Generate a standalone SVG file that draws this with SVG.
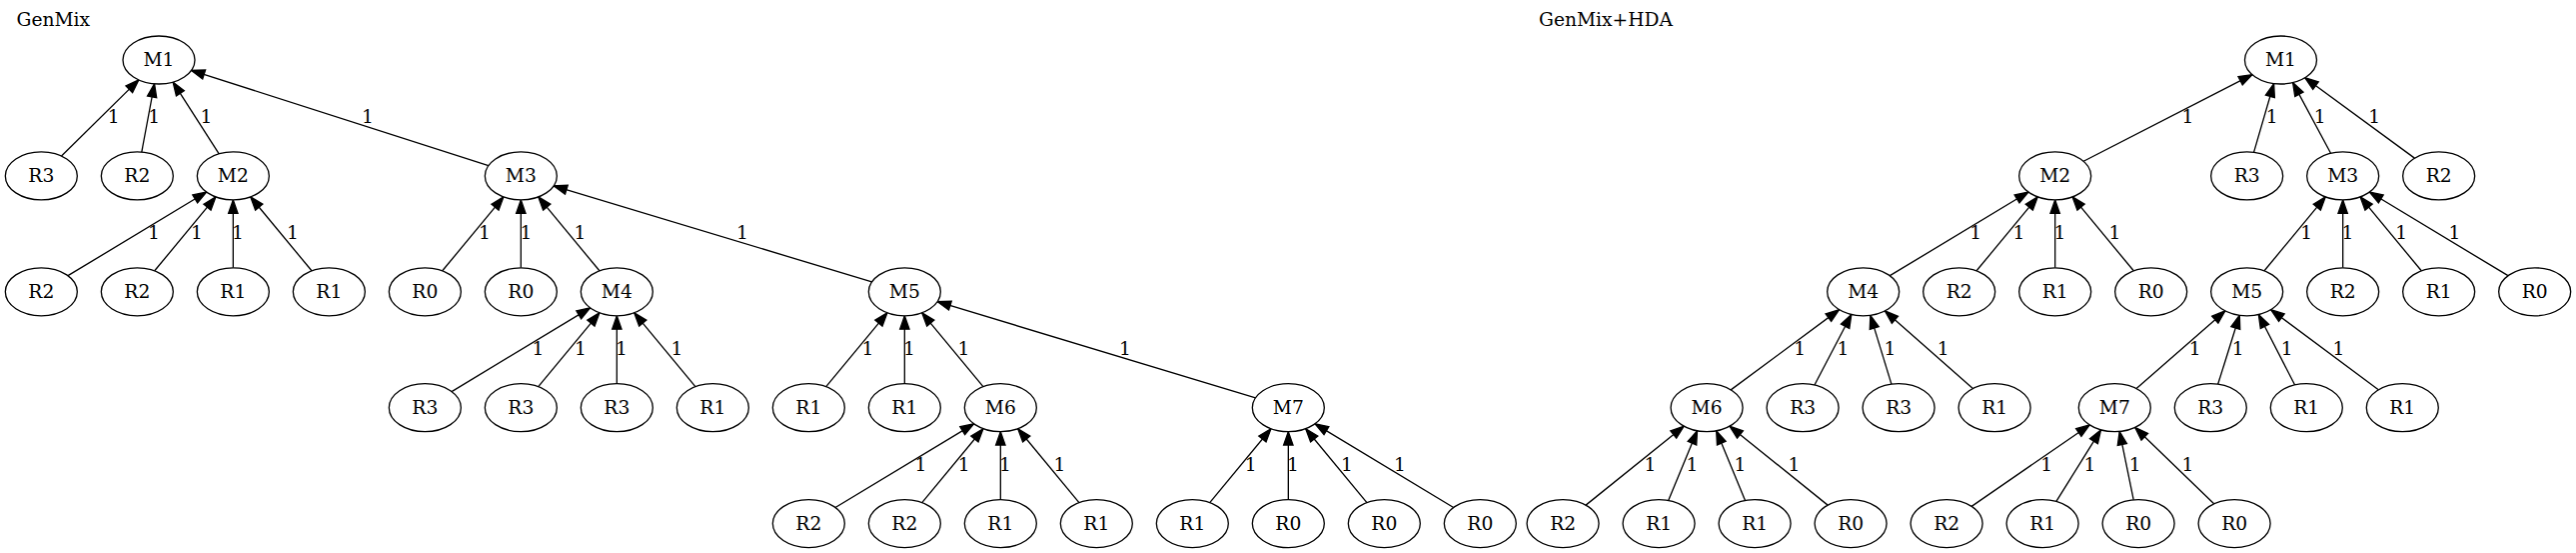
<svg xmlns="http://www.w3.org/2000/svg" width="2578" height="553" viewBox="0 0 2578 553">
<style>
text{font-family:"DejaVu Serif","Liberation Serif",serif;font-size:18.67px;fill:#000}
.n ellipse{fill:#fff;stroke:#000;stroke-width:1.33}
.n text,.e text{text-anchor:middle}
.e path{fill:none;stroke:#000;stroke-width:1.33}
</style>
<defs>
<marker id="ah" markerUnits="userSpaceOnUse" viewBox="-16 -7 18 14" markerWidth="18" markerHeight="14" refX="0" refY="0" orient="auto">
<path d="M-13.33,-4.67 L0,0 L-13.33,4.67 Z" fill="#000" stroke="#000" stroke-width="1.33"/>
</marker>
</defs>
<rect width="2578" height="553" fill="#fff"/>
<text id="title-a" x="16.5" y="26">GenMix</text>
<text id="title-b" x="1540" y="26">GenMix+HDA</text>
<g id="edges" class="e">
<path d="M61.51,156.02 L138.82,79.88" marker-end="url(#ah)"/><text x="113.8" y="123.4">1</text>
<path d="M141.78,152.08 L154.55,83.82" marker-end="url(#ah)"/><text x="154.3" y="123.4">1</text>
<path d="M219.18,153.83 L173.15,82.07" marker-end="url(#ah)"/><text x="206.5" y="123.4">1</text>
<path d="M488.87,165.52 L191.46,70.38" marker-end="url(#ah)"/><text x="368" y="123.4">1</text>
<path d="M68.02,275.69 L206.64,192.01" marker-end="url(#ah)"/><text x="154" y="239.3">1</text>
<path d="M154.73,270.79 L215.93,196.91" marker-end="url(#ah)"/><text x="197" y="239.3">1</text>
<path d="M233.33,267.8 L233.33,199.9" marker-end="url(#ah)"/><text x="238" y="239.3">1</text>
<path d="M311.93,270.79 L250.73,196.91" marker-end="url(#ah)"/><text x="293" y="239.3">1</text>
<path d="M442.73,270.79 L503.93,196.91" marker-end="url(#ah)"/><text x="485" y="239.3">1</text>
<path d="M521.33,267.8 L521.33,199.9" marker-end="url(#ah)"/><text x="526.5" y="239.3">1</text>
<path d="M599.93,270.79 L538.73,196.91" marker-end="url(#ah)"/><text x="580.5" y="239.3">1</text>
<path d="M872.53,281.9 L554.13,185.8" marker-end="url(#ah)"/><text x="743" y="239.3">1</text>
<path d="M452.02,391.59 L590.64,307.91" marker-end="url(#ah)"/><text x="538.5" y="355.2">1</text>
<path d="M538.73,386.69 L599.93,312.81" marker-end="url(#ah)"/><text x="581" y="355.2">1</text>
<path d="M617.33,383.7 L617.33,315.8" marker-end="url(#ah)"/><text x="622" y="355.2">1</text>
<path d="M695.93,386.69 L634.73,312.81" marker-end="url(#ah)"/><text x="677.5" y="355.2">1</text>
<path d="M826.73,386.69 L887.93,312.81" marker-end="url(#ah)"/><text x="868.5" y="355.2">1</text>
<path d="M905.33,383.7 L905.33,315.8" marker-end="url(#ah)"/><text x="910" y="355.2">1</text>
<path d="M983.93,386.69 L922.73,312.81" marker-end="url(#ah)"/><text x="964.5" y="355.2">1</text>
<path d="M1256.53,397.8 L938.13,301.7" marker-end="url(#ah)"/><text x="1126" y="355.2">1</text>
<path d="M836.02,507.49 L974.64,423.81" marker-end="url(#ah)"/><text x="921.5" y="471.1">1</text>
<path d="M922.73,502.59 L983.93,428.71" marker-end="url(#ah)"/><text x="964.8" y="471.1">1</text>
<path d="M1001.33,499.6 L1001.33,431.7" marker-end="url(#ah)"/><text x="1006" y="471.1">1</text>
<path d="M1079.93,502.59 L1018.73,428.71" marker-end="url(#ah)"/><text x="1060.5" y="471.1">1</text>
<path d="M1210.73,502.59 L1271.93,428.71" marker-end="url(#ah)"/><text x="1251.6" y="471.1">1</text>
<path d="M1289.33,499.6 L1289.33,431.7" marker-end="url(#ah)"/><text x="1294" y="471.1">1</text>
<path d="M1367.93,502.59 L1306.73,428.71" marker-end="url(#ah)"/><text x="1348" y="471.1">1</text>
<path d="M1454.64,507.49 L1316.02,423.81" marker-end="url(#ah)"/><text x="1401" y="471.1">1</text>
<path d="M2085.2,161.26 L2253.97,74.64" marker-end="url(#ah)"/><text x="2189.5" y="123.4">1</text>
<path d="M2255.55,152.34 L2275.62,83.56" marker-end="url(#ah)"/><text x="2273.7" y="123.4">1</text>
<path d="M2332.55,153.3 L2294.62,82.6" marker-end="url(#ah)"/><text x="2321.6" y="123.4">1</text>
<path d="M2416.44,158.15 L2306.73,77.75" marker-end="url(#ah)"/><text x="2376.3" y="123.4">1</text>
<path d="M1891.36,275.69 L2029.98,192.01" marker-end="url(#ah)"/><text x="1977.2" y="239.3">1</text>
<path d="M1978.07,270.79 L2039.27,196.91" marker-end="url(#ah)"/><text x="2020.4" y="239.3">1</text>
<path d="M2056.67,267.8 L2056.67,199.9" marker-end="url(#ah)"/><text x="2061.5" y="239.3">1</text>
<path d="M2135.27,270.79 L2074.07,196.91" marker-end="url(#ah)"/><text x="2116.4" y="239.3">1</text>
<path d="M2266.07,270.79 L2327.27,196.91" marker-end="url(#ah)"/><text x="2308.2" y="239.3">1</text>
<path d="M2344.67,267.8 L2344.67,199.9" marker-end="url(#ah)"/><text x="2349.5" y="239.3">1</text>
<path d="M2423.27,270.79 L2362.07,196.91" marker-end="url(#ah)"/><text x="2403.2" y="239.3">1</text>
<path d="M2509.98,275.69 L2371.36,192.01" marker-end="url(#ah)"/><text x="2456.5" y="239.3">1</text>
<path d="M1732.19,389.87 L1840.58,309.63" marker-end="url(#ah)"/><text x="1801.3" y="355.2">1</text>
<path d="M1815.94,385.04 L1852.83,314.46" marker-end="url(#ah)"/><text x="1844.4" y="355.2">1</text>
<path d="M1892.91,384.18 L1871.86,315.32" marker-end="url(#ah)"/><text x="1891.5" y="355.2">1</text>
<path d="M1974.39,388.56 L1886.38,310.95" marker-end="url(#ah)"/><text x="1944.6" y="355.2">1</text>
<path d="M2138.11,388.61 L2226.86,310.9" marker-end="url(#ah)"/><text x="2196.7" y="355.2">1</text>
<path d="M2219.67,384.21 L2241.3,315.29" marker-end="url(#ah)"/><text x="2239.7" y="355.2">1</text>
<path d="M2296.62,385 L2260.35,314.5" marker-end="url(#ah)"/><text x="2288.6" y="355.2">1</text>
<path d="M2380.29,389.82 L2272.68,309.68" marker-end="url(#ah)"/><text x="2340.4" y="355.2">1</text>
<path d="M1587.06,505.12 L1685.14,426.18" marker-end="url(#ah)"/><text x="1651.5" y="471.1">1</text>
<path d="M1669.68,500.47 L1698.52,430.83" marker-end="url(#ah)"/><text x="1693.5" y="471.1">1</text>
<path d="M1746.52,500.47 L1717.68,430.83" marker-end="url(#ah)"/><text x="1741.4" y="471.1">1</text>
<path d="M1829.14,505.12 L1731.06,426.18" marker-end="url(#ah)"/><text x="1795.5" y="471.1">1</text>
<path d="M1973.13,506.35 L2091.27,424.95" marker-end="url(#ah)"/><text x="2048.2" y="471.1">1</text>
<path d="M2057.91,501.44 L2102.49,429.86" marker-end="url(#ah)"/><text x="2091.5" y="471.1">1</text>
<path d="M2135.22,499.82 L2121.18,431.48" marker-end="url(#ah)"/><text x="2136.6" y="471.1">1</text>
<path d="M2215.67,503.84 L2136.73,427.46" marker-end="url(#ah)"/><text x="2189.4" y="471.1">1</text>
</g>
<g id="a_M1" class="n"><ellipse cx="159" cy="60" rx="36" ry="24"/><text x="159" y="66.4">M1</text></g>
<g id="a_R3_1" class="n"><ellipse cx="41.33" cy="175.9" rx="36" ry="24"/><text x="41.33" y="182.3">R3</text></g>
<g id="a_R2_1" class="n"><ellipse cx="137.33" cy="175.9" rx="36" ry="24"/><text x="137.33" y="182.3">R2</text></g>
<g id="a_M2" class="n"><ellipse cx="233.33" cy="175.9" rx="36" ry="24"/><text x="233.33" y="182.3">M2</text></g>
<g id="a_M3" class="n"><ellipse cx="521.33" cy="175.9" rx="36" ry="24"/><text x="521.33" y="182.3">M3</text></g>
<g id="a_R2_2" class="n"><ellipse cx="41.33" cy="291.8" rx="36" ry="24"/><text x="41.33" y="298.2">R2</text></g>
<g id="a_R2_3" class="n"><ellipse cx="137.33" cy="291.8" rx="36" ry="24"/><text x="137.33" y="298.2">R2</text></g>
<g id="a_R1_1" class="n"><ellipse cx="233.33" cy="291.8" rx="36" ry="24"/><text x="233.33" y="298.2">R1</text></g>
<g id="a_R1_2" class="n"><ellipse cx="329.33" cy="291.8" rx="36" ry="24"/><text x="329.33" y="298.2">R1</text></g>
<g id="a_R0_1" class="n"><ellipse cx="425.33" cy="291.8" rx="36" ry="24"/><text x="425.33" y="298.2">R0</text></g>
<g id="a_R0_2" class="n"><ellipse cx="521.33" cy="291.8" rx="36" ry="24"/><text x="521.33" y="298.2">R0</text></g>
<g id="a_M4" class="n"><ellipse cx="617.33" cy="291.8" rx="36" ry="24"/><text x="617.33" y="298.2">M4</text></g>
<g id="a_M5" class="n"><ellipse cx="905.33" cy="291.8" rx="36" ry="24"/><text x="905.33" y="298.2">M5</text></g>
<g id="a_R3_2" class="n"><ellipse cx="425.33" cy="407.7" rx="36" ry="24"/><text x="425.33" y="414.1">R3</text></g>
<g id="a_R3_3" class="n"><ellipse cx="521.33" cy="407.7" rx="36" ry="24"/><text x="521.33" y="414.1">R3</text></g>
<g id="a_R3_4" class="n"><ellipse cx="617.33" cy="407.7" rx="36" ry="24"/><text x="617.33" y="414.1">R3</text></g>
<g id="a_R1_3" class="n"><ellipse cx="713.33" cy="407.7" rx="36" ry="24"/><text x="713.33" y="414.1">R1</text></g>
<g id="a_R1_4" class="n"><ellipse cx="809.33" cy="407.7" rx="36" ry="24"/><text x="809.33" y="414.1">R1</text></g>
<g id="a_R1_5" class="n"><ellipse cx="905.33" cy="407.7" rx="36" ry="24"/><text x="905.33" y="414.1">R1</text></g>
<g id="a_M6" class="n"><ellipse cx="1001.33" cy="407.7" rx="36" ry="24"/><text x="1001.33" y="414.1">M6</text></g>
<g id="a_M7" class="n"><ellipse cx="1289.33" cy="407.7" rx="36" ry="24"/><text x="1289.33" y="414.1">M7</text></g>
<g id="a_R2_4" class="n"><ellipse cx="809.33" cy="523.6" rx="36" ry="24"/><text x="809.33" y="530">R2</text></g>
<g id="a_R2_5" class="n"><ellipse cx="905.33" cy="523.6" rx="36" ry="24"/><text x="905.33" y="530">R2</text></g>
<g id="a_R1_6" class="n"><ellipse cx="1001.33" cy="523.6" rx="36" ry="24"/><text x="1001.33" y="530">R1</text></g>
<g id="a_R1_7" class="n"><ellipse cx="1097.33" cy="523.6" rx="36" ry="24"/><text x="1097.33" y="530">R1</text></g>
<g id="a_R1_8" class="n"><ellipse cx="1193.33" cy="523.6" rx="36" ry="24"/><text x="1193.33" y="530">R1</text></g>
<g id="a_R0_3" class="n"><ellipse cx="1289.33" cy="523.6" rx="36" ry="24"/><text x="1289.33" y="530">R0</text></g>
<g id="a_R0_4" class="n"><ellipse cx="1385.33" cy="523.6" rx="36" ry="24"/><text x="1385.33" y="530">R0</text></g>
<g id="a_R0_5" class="n"><ellipse cx="1481.33" cy="523.6" rx="36" ry="24"/><text x="1481.33" y="530">R0</text></g>
<g id="b_M1" class="n"><ellipse cx="2282.5" cy="60" rx="36" ry="24"/><text x="2282.5" y="66.4">M1</text></g>
<g id="b_M2" class="n"><ellipse cx="2056.67" cy="175.9" rx="36" ry="24"/><text x="2056.67" y="182.3">M2</text></g>
<g id="b_R3_1" class="n"><ellipse cx="2248.67" cy="175.9" rx="36" ry="24"/><text x="2248.67" y="182.3">R3</text></g>
<g id="b_M3" class="n"><ellipse cx="2344.67" cy="175.9" rx="36" ry="24"/><text x="2344.67" y="182.3">M3</text></g>
<g id="b_R2_1" class="n"><ellipse cx="2440.67" cy="175.9" rx="36" ry="24"/><text x="2440.67" y="182.3">R2</text></g>
<g id="b_M4" class="n"><ellipse cx="1864.67" cy="291.8" rx="36" ry="24"/><text x="1864.67" y="298.2">M4</text></g>
<g id="b_R2_2" class="n"><ellipse cx="1960.67" cy="291.8" rx="36" ry="24"/><text x="1960.67" y="298.2">R2</text></g>
<g id="b_R1_1" class="n"><ellipse cx="2056.67" cy="291.8" rx="36" ry="24"/><text x="2056.67" y="298.2">R1</text></g>
<g id="b_R0_1" class="n"><ellipse cx="2152.67" cy="291.8" rx="36" ry="24"/><text x="2152.67" y="298.2">R0</text></g>
<g id="b_M5" class="n"><ellipse cx="2248.67" cy="291.8" rx="36" ry="24"/><text x="2248.67" y="298.2">M5</text></g>
<g id="b_R2_3" class="n"><ellipse cx="2344.67" cy="291.8" rx="36" ry="24"/><text x="2344.67" y="298.2">R2</text></g>
<g id="b_R1_2" class="n"><ellipse cx="2440.67" cy="291.8" rx="36" ry="24"/><text x="2440.67" y="298.2">R1</text></g>
<g id="b_R0_2" class="n"><ellipse cx="2536.67" cy="291.8" rx="36" ry="24"/><text x="2536.67" y="298.2">R0</text></g>
<g id="b_M6" class="n"><ellipse cx="1708.1" cy="407.7" rx="36" ry="24"/><text x="1708.1" y="414.1">M6</text></g>
<g id="b_R3_2" class="n"><ellipse cx="1804.1" cy="407.7" rx="36" ry="24"/><text x="1804.1" y="414.1">R3</text></g>
<g id="b_R3_3" class="n"><ellipse cx="1900.1" cy="407.7" rx="36" ry="24"/><text x="1900.1" y="414.1">R3</text></g>
<g id="b_R1_3" class="n"><ellipse cx="1996.1" cy="407.7" rx="36" ry="24"/><text x="1996.1" y="414.1">R1</text></g>
<g id="b_M7" class="n"><ellipse cx="2116.3" cy="407.7" rx="36" ry="24"/><text x="2116.3" y="414.1">M7</text></g>
<g id="b_R3_4" class="n"><ellipse cx="2212.3" cy="407.7" rx="36" ry="24"/><text x="2212.3" y="414.1">R3</text></g>
<g id="b_R1_4" class="n"><ellipse cx="2308.3" cy="407.7" rx="36" ry="24"/><text x="2308.3" y="414.1">R1</text></g>
<g id="b_R1_5" class="n"><ellipse cx="2404.3" cy="407.7" rx="36" ry="24"/><text x="2404.3" y="414.1">R1</text></g>
<g id="b_R2_4" class="n"><ellipse cx="1564.1" cy="523.6" rx="36" ry="24"/><text x="1564.1" y="530">R2</text></g>
<g id="b_R1_6" class="n"><ellipse cx="1660.1" cy="523.6" rx="36" ry="24"/><text x="1660.1" y="530">R1</text></g>
<g id="b_R1_7" class="n"><ellipse cx="1756.1" cy="523.6" rx="36" ry="24"/><text x="1756.1" y="530">R1</text></g>
<g id="b_R0_3" class="n"><ellipse cx="1852.1" cy="523.6" rx="36" ry="24"/><text x="1852.1" y="530">R0</text></g>
<g id="b_R2_5" class="n"><ellipse cx="1948.1" cy="523.6" rx="36" ry="24"/><text x="1948.1" y="530">R2</text></g>
<g id="b_R1_8" class="n"><ellipse cx="2044.1" cy="523.6" rx="36" ry="24"/><text x="2044.1" y="530">R1</text></g>
<g id="b_R0_4" class="n"><ellipse cx="2140.1" cy="523.6" rx="36" ry="24"/><text x="2140.1" y="530">R0</text></g>
<g id="b_R0_5" class="n"><ellipse cx="2236.1" cy="523.6" rx="36" ry="24"/><text x="2236.1" y="530">R0</text></g>
</svg>
